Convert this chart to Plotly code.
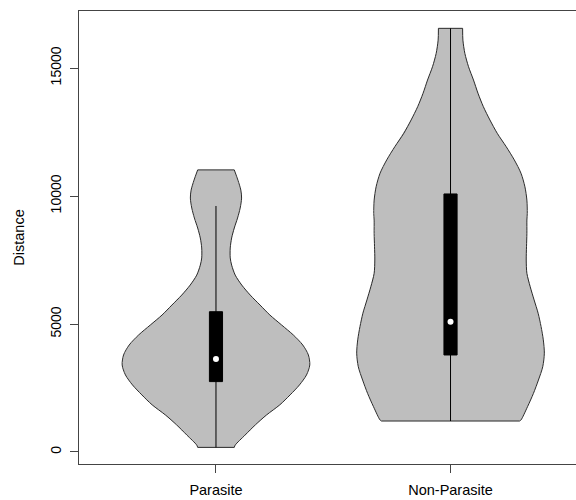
import plotly.graph_objects as go

# ---- data ----
categories = ["Parasite", "Non-Parasite"]

parasite_y = [180, 270, 660, 1060, 1450, 1840, 2230, 2620, 3010, 3400, 3790, 4180,
              4570, 4960, 5350, 5740, 6130, 6520, 6910, 7300, 7580, 7970, 8360,
              8750, 9140, 9530, 9920, 10230, 10620, 11020]
parasite_dens = [0.195, 0.205, 0.31, 0.42, 0.54, 0.68, 0.79, 0.89, 0.965, 1.0, 0.985,
                 0.925, 0.825, 0.70, 0.575, 0.47, 0.365, 0.275, 0.205, 0.167, 0.152,
                 0.152, 0.167, 0.195, 0.23, 0.258, 0.273, 0.265, 0.234, 0.195]

nonparasite_y = [1210, 1250, 1770, 2290, 2810, 3330, 3860, 4380, 4900, 5420, 5940,
                 6460, 6980, 7500, 8020, 8540, 9060, 9320, 9840, 10360, 10890, 11410,
                 11930, 12450, 12970, 13490, 14010, 14530, 15050, 15570, 16090, 16550]
nonparasite_dens = [0.736, 0.751, 0.821, 0.884, 0.937, 0.983, 1.0, 0.989, 0.965, 0.934,
                    0.891, 0.849, 0.814, 0.807, 0.810, 0.814, 0.814, 0.818, 0.814,
                    0.793, 0.751, 0.680, 0.593, 0.498, 0.420, 0.350, 0.293, 0.245,
                    0.192, 0.153, 0.132, 0.129]

# box statistics: lower whisker, Q1, median, Q3, upper whisker
whisker_low = [180, 1210]
q1 = [2750, 3790]
median = [3630, 5090]
q3 = [5480, 10080]
whisker_high = [9610, 16550]

# ---- styling ----
HALF_WIDTH = 0.4      # violin max half width (x units)
BOX_HALF = 0.028      # box half width (x units)
FILL = "#BEBEBE"
OUTLINE = "#2a2a2a"
FONT = "Liberation Sans, Arial, sans-serif"

fig = go.Figure()

profiles = [(parasite_y, parasite_dens), (nonparasite_y, nonparasite_dens)]
for i, (ys, ds) in enumerate(profiles):
    c = i + 1
    left = [c - HALF_WIDTH * d for d in ds]
    right = [c + HALF_WIDTH * d for d in ds]
    # fill
    fig.add_trace(go.Scatter(x=left + right[::-1], y=list(ys) + list(ys)[::-1],
                             mode="lines", fill="toself", fillcolor=FILL,
                             line=dict(color=FILL, width=0),
                             hoverinfo="skip", showlegend=False))
    # smooth side outlines
    for side in (left, right):
        fig.add_trace(go.Scatter(x=side, y=ys, mode="lines",
                                 line=dict(color=OUTLINE, width=1, shape="spline", smoothing=0.8),
                                 hoverinfo="skip", showlegend=False))
    # flat bottom and top edges
    for idx in (0, -1):
        fig.add_trace(go.Scatter(x=[left[idx], right[idx]], y=[ys[idx], ys[idx]], mode="lines",
                                 line=dict(color=OUTLINE, width=1),
                                 hoverinfo="skip", showlegend=False))
    # whisker
    fig.add_trace(go.Scatter(x=[c, c], y=[whisker_low[i], whisker_high[i]], mode="lines",
                             line=dict(color="black", width=1), showlegend=False,
                             hoverinfo="skip"))
    # box
    fig.add_trace(go.Scatter(x=[c - BOX_HALF, c + BOX_HALF, c + BOX_HALF, c - BOX_HALF, c - BOX_HALF],
                             y=[q1[i], q1[i], q3[i], q3[i], q1[i]], mode="lines",
                             fill="toself", fillcolor="black",
                             line=dict(color="black", width=1), showlegend=False,
                             hoverinfo="skip"))
    # median
    fig.add_trace(go.Scatter(x=[c], y=[median[i]], mode="markers",
                             marker=dict(color="white", size=6, line=dict(width=0)),
                             showlegend=False, hoverinfo="skip"))

fig.update_layout(
    width=576, height=500,
    margin=dict(l=79, r=0, t=11, b=36, autoexpand=False),
    paper_bgcolor="white", plot_bgcolor="white",
    font=dict(family=FONT, size=14, color="black"),
    showlegend=False,
)
fig.update_xaxes(
    range=[0.416, 2.535], tickvals=[1, 2], ticktext=categories,
    ticks="outside", ticklen=8, tickcolor="#444", showline=True, mirror=True,
    linecolor="#444", linewidth=1, showgrid=False, zeroline=False,
    tickfont=dict(size=14.5), ticklabelstandoff=5,
)
fig.update_yaxes(
    range=[-469, 17227], tickvals=[0, 5000, 10000, 15000],
    ticktext=["0", "5000", "10000", "15000"], tickangle=-90,
    ticks="outside", ticklen=8, tickcolor="#444", showline=True, mirror=False,
    linecolor="#444", linewidth=1, showgrid=False, zeroline=False,
    title=dict(text="Distance", standoff=20, font=dict(size=14.5)),
    tickfont=dict(size=14), ticklabelstandoff=3,
)

fig.write_html("out.html")
